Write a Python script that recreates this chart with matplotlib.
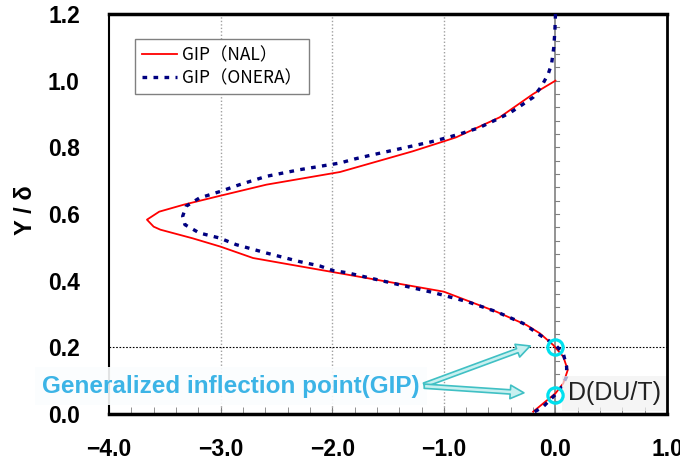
import numpy as np
import matplotlib
matplotlib.use("Agg")
import matplotlib.pyplot as plt
from matplotlib.patches import FancyArrowPatch
from matplotlib.ticker import MultipleLocator

# GIP profiles: x = GIP value, y = Y/delta
nal_x = [0.0, -0.2, -0.5, -0.89, -1.0, -1.28, -1.93, -2.59, -3.0, -3.33, -3.55,
         -3.66, -3.6, -3.54, -3.25, -3.0, -2.71, -2.44, -1.93, -1.0, -0.53, -0.26,
         -0.14, -0.02, 0.07, 0.11, 0.07, 0.0, -0.2]
nal_y = [1.0, 0.96, 0.89, 0.83, 0.818, 0.788, 0.726, 0.688, 0.655, 0.628, 0.607,
         0.583, 0.562, 0.553, 0.527, 0.502, 0.468, 0.452, 0.422, 0.367, 0.307, 0.267,
         0.242, 0.207, 0.172, 0.132, 0.092, 0.062, 0.007]

onera_x = [0.0, -0.005, -0.015, -0.035, -0.065, -0.125, -0.2, -0.31, -0.41, -0.53,
           -0.69, -0.83, -0.96, -1.12, -1.39, -1.66, -1.8, -1.93, -2.29, -2.59, -2.83,
           -3.0, -3.19, -3.31, -3.34, -3.32, -3.19, -3.01, -2.86, -2.59, -2.29, -2.11,
           -1.99, -1.87, -1.48, -1.09, -0.79, -0.53, -0.29, -0.14, 0.0, 0.07, 0.1,
           0.1, 0.04, -0.02, -0.11, -0.2]
onera_y = [1.2, 1.15, 1.1, 1.05, 1.02, 0.983, 0.95, 0.925, 0.903, 0.883,
           0.858, 0.843, 0.83, 0.816, 0.796, 0.776, 0.765, 0.753, 0.733, 0.713, 0.688,
           0.668, 0.648, 0.623, 0.593, 0.568, 0.543, 0.528, 0.508, 0.483, 0.457, 0.444,
           0.43, 0.424, 0.394, 0.364, 0.337, 0.307, 0.272, 0.237, 0.207, 0.182, 0.142,
           0.112, 0.072, 0.052, 0.022, 0.004]

# generalized inflection points
gip_x = [0.0, 0.0]
gip_y = [0.2, 0.057]

x_ticks = [-4.0, -3.0, -2.0, -1.0, 0.0, 1.0]
y_ticks = [0.0, 0.2, 0.4, 0.6, 0.8, 1.0, 1.2]

tick_font = dict(family="Liberation Sans", weight="bold", size=16.5)

fig = plt.figure(figsize=(6.8, 4.63), dpi=100)
ax = fig.add_axes([0.1603, 0.1058, 0.8207, 0.864])

ax.set_xlim(-4.0, 1.0)
ax.set_ylim(0.0, 1.2)

# grid / reference lines
for gx in [-3.0, -2.0, -1.0]:
    ax.axvline(gx, color="#a0a0a0", lw=1, ls=(0, (1, 1.5)), zorder=1)
ax.axvline(0.0, color="#808080", lw=1.2, zorder=1)
for ty in np.arange(0.04, 1.2, 0.04):
    ax.plot([0.0, 0.035], [ty, ty], color="#808080", lw=0.8, zorder=1)
ax.axhline(0.2, color="black", lw=0.8, ls=(0, (1.5, 1.5)), zorder=1)

ax.plot(nal_x, nal_y, color="#ff0000", lw=1.3, label="GIP（NAL）", zorder=3)
ax.plot(onera_x, onera_y, color="#000080", lw=2.4, ls=(0, (1.4, 1.9)),
        dash_capstyle="butt", label="GIP（ONERA）", zorder=4)

ax.plot(gip_x, gip_y, "o", ms=11, mfc="none", mec="#00e0ee", mew=2.3, zorder=6)

ax.set_xticks(x_ticks)
ax.set_yticks(y_ticks)
ax.set_xticklabels([f"{v:.1f}".replace("-", "\u2212") for v in x_ticks], fontdict=tick_font)
ax.set_yticklabels([f"{v:.1f}" for v in y_ticks], fontdict=tick_font)
ax.xaxis.set_minor_locator(MultipleLocator(0.2))
ax.tick_params(axis="x", which="both", direction="in", length=5, color="#808080", pad=17)
ax.tick_params(axis="y", which="both", length=0, pad=21)

ax.set_ylabel("Y / δ", fontdict=dict(family="Liberation Sans", weight="bold", size=17),
              va="center")
ax.yaxis.set_label_coords(-0.1505, 0.51)

ax.spines["top"].set_linewidth(2.5)
ax.spines["bottom"].set_linewidth(2.5)
ax.spines["left"].set_linewidth(1.5)
ax.spines["right"].set_linewidth(2.0)

leg = ax.legend(loc="upper left", bbox_to_anchor=(0.0466, 0.9375), borderaxespad=0,
                prop=dict(family=["Noto Sans CJK JP", "DejaVu Sans"], size=12.5),
                fancybox=False, framealpha=1, edgecolor="#808080",
                handlelength=2.0, handletextpad=0.3, borderpad=0.4, labelspacing=0.3)
leg.get_frame().set_linewidth(1.0)

# annotation for the inflection points
ax.text(-4.6, 0.084, "Generalized inflection point(GIP)", color="#3cb4e6",
        family="Liberation Sans", weight="bold", size=17.5, va="center", ha="left",
        clip_on=False, zorder=5,
        bbox=dict(facecolor="#fbfdfe", edgecolor="none", alpha=0.9, pad=5))
ax.text(0.11, 0.062, "D(DU/T)", color="#222222", family="Liberation Sans",
        size=18, va="center", ha="left", zorder=5,
        bbox=dict(facecolor="#f2f2f2", edgecolor="none", alpha=0.7, pad=4))

for tx, ty in [(-0.204, 0.207), (-0.258, 0.063)]:
    arr = FancyArrowPatch((-1.2, 0.084), (tx, ty),
                          arrowstyle="simple,head_length=0.7,head_width=0.7,tail_width=0.22",
                          mutation_scale=14, facecolor="#c8f0f0", edgecolor="#40c0c4",
                          lw=1.2, zorder=5)
    ax.add_patch(arr)

fig.savefig("out.png", dpi=100)
